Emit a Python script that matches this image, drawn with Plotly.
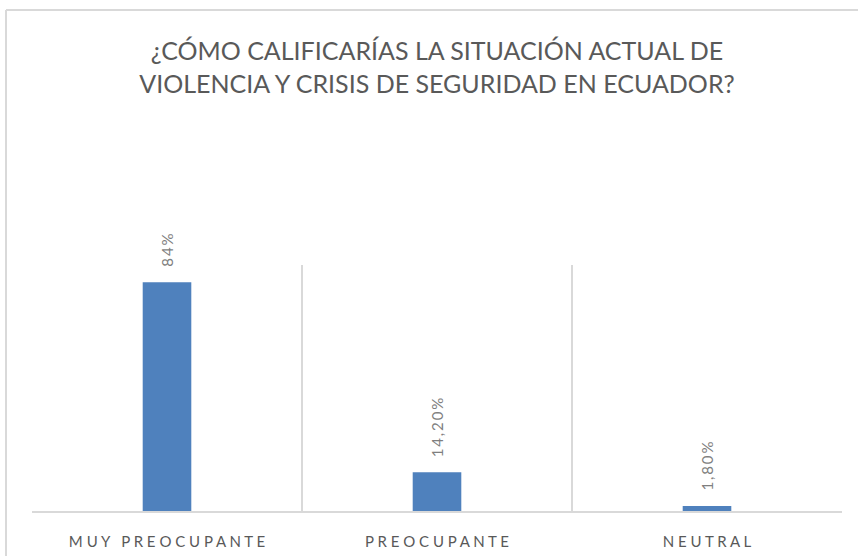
import plotly.graph_objects as go

categories = ["MUY PREOCUPANTE", "PREOCUPANTE", "NEUTRAL"]
values = [84.0, 14.2, 1.8]
value_labels = ["84%", "14,20%", "1,80%"]
title_text = "¿CÓMO CALIFICARÍAS LA SITUACIÓN ACTUAL DE<br>VIOLENCIA Y CRISIS DE SEGURIDAD EN ECUADOR?"

BAR = "#4f81bd"
GRID = "#d9d9d9"
TXT = "#595959"
LBL = "#7f7f7f"
FONT = "Lato, Liberation Sans, Arial, sans-serif"


def spaced(s, gap=" "):
    words = s.split(" ")
    return ("\u00a0\u00a0\u00a0").join(gap.join(list(w)) for w in words)


fig = go.Figure()
fig.add_trace(go.Bar(
    x=categories, y=values, width=0.18,
    marker=dict(color=BAR, line=dict(width=0)),
    hoverinfo="skip",
))

for c, v, t in zip(categories, values, value_labels):
    fig.add_annotation(
        x=c, y=v, xref="x", yref="y", text=spaced(t, "\u2009"),
        textangle=-90, showarrow=False, yanchor="bottom", xanchor="center",
        yshift=13, font=dict(family=FONT, size=15, color=LBL),
    )

# chart frame
fig.add_shape(type="line", xref="paper", yref="paper", x0=-0.0321, x1=-0.0321, y0=-0.3, y1=2.037,
              line=dict(color=GRID, width=2))
fig.add_shape(type="line", xref="paper", yref="paper", x0=-0.0321, x1=1.05, y0=2.037, y1=2.037,
              line=dict(color=GRID, width=2))

fig.update_layout(
    width=858, height=556,
    margin=dict(l=32, r=16, t=265, b=45),
    paper_bgcolor="white", plot_bgcolor="white",
    showlegend=False,
    title=dict(text=title_text, x=0.5, xref="paper", xanchor="center",
               y=1 - 60 / 556, yref="container", yanchor="middle", automargin=False,
               font=dict(family=FONT, size=25, color=TXT)),
    xaxis=dict(
        type="category", range=[-0.5, 2.5], automargin=False,
        tickson="boundaries", ticks="", showgrid=True, gridcolor=GRID, gridwidth=1.5,
        showline=True, linecolor=GRID, linewidth=1.5,
        tickvals=categories, ticktext=[spaced(c) for c in categories],
        tickfont=dict(family=FONT, size=15, color=TXT),
        ticklabelstandoff=16,
    ),
    yaxis=dict(range=[0, 90.3], showgrid=False, zeroline=False, showticklabels=False,
               showline=False, automargin=False),
)

fig.write_html("out.html", config={"displayModeBar": False},
               post_script="document.body.style.margin='0';")
